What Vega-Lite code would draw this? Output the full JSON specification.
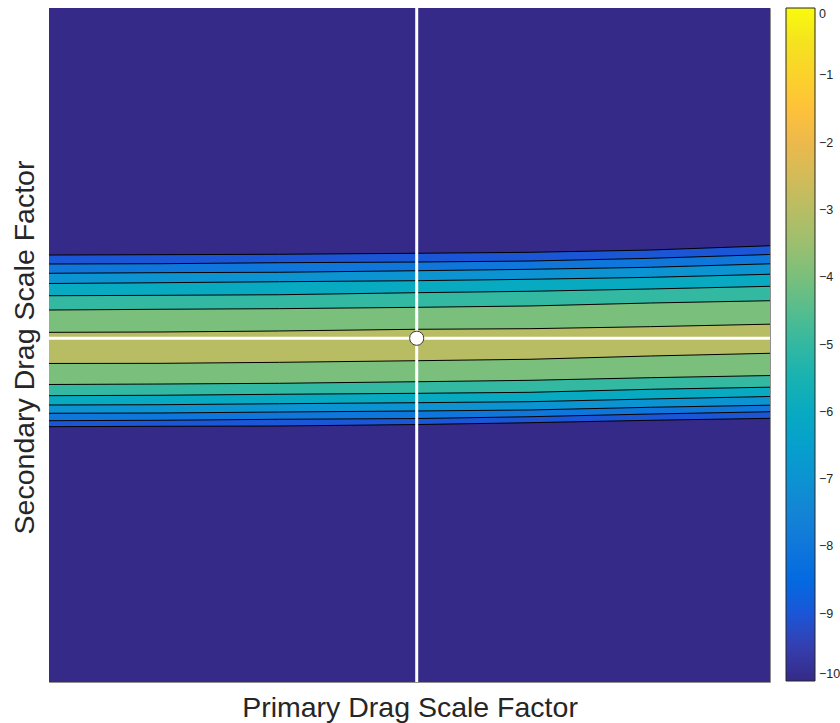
{
  "$schema": "https://vega.github.io/schema/vega-lite/v6.json",
  "width": 721,
  "height": 674,
  "autosize": {"type": "none"},
  "padding": {"left": 49, "top": 8, "right": 70, "bottom": 41},
  "background": "white",
  "config": {
    "view": {"stroke": "#8f8f8f", "strokeWidth": 1},
    "font": "Liberation Sans"
  },
  "datasets": {
    "bands": [
      {"level": -10, "x": 0, "top": 100, "bottom": 0},
      {"level": -10, "x": 100, "top": 100, "bottom": 0},
      {"level": -9, "x": 0, "top": 63.35, "bottom": 37.88},
      {"level": -9, "x": 15.4, "top": 63.40, "bottom": 37.94},
      {"level": -9, "x": 32.0, "top": 63.46, "bottom": 37.98},
      {"level": -9, "x": 51.0, "top": 63.61, "bottom": 38.20},
      {"level": -9, "x": 66.7, "top": 63.75, "bottom": 38.47},
      {"level": -9, "x": 83.4, "top": 64.09, "bottom": 38.83},
      {"level": -9, "x": 100, "top": 64.73, "bottom": 39.12},
      {"level": -8, "x": 0, "top": 62.02, "bottom": 38.77},
      {"level": -8, "x": 15.4, "top": 62.06, "bottom": 38.83},
      {"level": -8, "x": 32.0, "top": 62.21, "bottom": 38.98},
      {"level": -8, "x": 51.0, "top": 62.31, "bottom": 39.09},
      {"level": -8, "x": 66.7, "top": 62.46, "bottom": 39.36},
      {"level": -8, "x": 83.4, "top": 62.86, "bottom": 39.76},
      {"level": -8, "x": 100, "top": 63.43, "bottom": 40.10},
      {"level": -7, "x": 0, "top": 60.64, "bottom": 39.87},
      {"level": -7, "x": 15.4, "top": 60.73, "bottom": 39.91},
      {"level": -7, "x": 32.0, "top": 60.79, "bottom": 40.06},
      {"level": -7, "x": 51.0, "top": 61.02, "bottom": 40.21},
      {"level": -7, "x": 66.7, "top": 61.23, "bottom": 40.36},
      {"level": -7, "x": 83.4, "top": 61.53, "bottom": 40.76},
      {"level": -7, "x": 100, "top": 62.05, "bottom": 41.07},
      {"level": -6, "x": 0, "top": 59.12, "bottom": 41.10},
      {"level": -6, "x": 15.4, "top": 59.24, "bottom": 41.14},
      {"level": -6, "x": 32.0, "top": 59.39, "bottom": 41.29},
      {"level": -6, "x": 51.0, "top": 59.54, "bottom": 41.44},
      {"level": -6, "x": 66.7, "top": 59.75, "bottom": 41.59},
      {"level": -6, "x": 83.4, "top": 60.04, "bottom": 41.99},
      {"level": -6, "x": 100, "top": 60.50, "bottom": 42.36},
      {"level": -5, "x": 0, "top": 57.31, "bottom": 42.48},
      {"level": -5, "x": 15.4, "top": 57.37, "bottom": 42.54},
      {"level": -5, "x": 32.0, "top": 57.46, "bottom": 42.69},
      {"level": -5, "x": 51.0, "top": 57.76, "bottom": 42.83},
      {"level": -5, "x": 66.7, "top": 57.97, "bottom": 42.98},
      {"level": -5, "x": 83.4, "top": 58.31, "bottom": 43.43},
      {"level": -5, "x": 100, "top": 58.71, "bottom": 43.74},
      {"level": -4, "x": 0, "top": 55.19, "bottom": 44.14},
      {"level": -4, "x": 15.4, "top": 55.30, "bottom": 44.21},
      {"level": -4, "x": 32.0, "top": 55.39, "bottom": 44.32},
      {"level": -4, "x": 51.0, "top": 55.59, "bottom": 44.55},
      {"level": -4, "x": 66.7, "top": 55.79, "bottom": 44.76},
      {"level": -4, "x": 83.4, "top": 56.23, "bottom": 45.15},
      {"level": -4, "x": 100, "top": 56.57, "bottom": 45.47},
      {"level": -3, "x": 0, "top": 51.88, "bottom": 47.26},
      {"level": -3, "x": 15.4, "top": 51.93, "bottom": 47.28},
      {"level": -3, "x": 32.0, "top": 52.08, "bottom": 47.43},
      {"level": -3, "x": 51.0, "top": 52.33, "bottom": 47.67},
      {"level": -3, "x": 66.7, "top": 52.42, "bottom": 47.88},
      {"level": -3, "x": 83.4, "top": 52.72, "bottom": 48.37},
      {"level": -3, "x": 100, "top": 53.09, "bottom": 48.77}
    ],
    "optimum": [{"px": 51.0, "py": 51.0}]
  },
  "layer": [
    {
      "data": {"name": "bands"},
      "mark": {"type": "area", "interpolate": "linear"},
      "encoding": {
        "x": {"field": "x", "type": "quantitative", "scale": {"domain": [0, 100], "nice": false, "zero": false},
              "axis": {"labels": false, "ticks": false, "domain": false, "grid": false, "title": "Primary Drag Scale Factor",
                       "titleFont": "Liberation Sans", "titleFontSize": 28.5, "titleFontWeight": "normal", "titleColor": "#262626",
                       "titleX": 360.5, "titleY": 34.5, "titleAlign": "center", "titleBaseline": "alphabetic"}},
        "y": {"field": "top", "type": "quantitative", "scale": {"domain": [0, 100], "nice": false, "zero": false},
              "axis": {"labels": false, "ticks": false, "domain": false, "grid": false, "title": "Secondary Drag Scale Factor",
                       "titleFont": "Liberation Sans", "titleFontSize": 28.5, "titleFontWeight": "normal", "titleColor": "#262626",
                       "titleAngle": -90, "titleX": -16, "titleY": 339, "titleAlign": "center", "titleBaseline": "alphabetic"}},
        "y2": {"field": "bottom"},
        "detail": {"field": "level", "type": "ordinal"},
        "order": {"field": "level", "type": "quantitative"},
        "color": {
          "field": "level", "type": "quantitative",
          "scale": {"type": "linear", "domain": [-10, 0], "interpolate": "rgb", "range": [
            "#352A87","#363093","#3637A0","#353DAD","#3243BA","#2C4AC7","#2053D4","#0F5CDD",
            "#0363E1","#0268E1","#046DE0","#0871DE","#0D75DC","#1079DA","#127DD8","#1481D6",
            "#1485D4","#1389D3","#108ED2","#0C93D2","#0998D1","#079CCF","#06A0CD","#06A4CA",
            "#06A7C6","#07A9C2","#0AACBE","#0FAEB9","#15B1B4","#1DB3AF","#25B5A9","#2EB7A4",
            "#38B99E","#42BB98","#4DBC92","#59BD8C","#65BE86","#71BF80","#7CBF7B","#87BF77",
            "#92BF73","#9CBF6F","#A5BE6B","#AEBE67","#B7BD64","#C0BC60","#C8BC5D","#D1BB59",
            "#D9BA56","#E1B952","#E9B94E","#F1B94A","#F8BB44","#FDBE3D","#FFC337","#FEC832",
            "#FCCE2E","#FAD32A","#F7D826","#F5DE21","#F5E41D","#F5EB18","#F6F313","#F9FB0E"]},
          "legend": {
            "title": null, "orient": "right", "offset": 14, "padding": 0,
            "type": "gradient", "direction": "vertical",
            "gradientLength": 673, "gradientThickness": 29,
            "gradientStrokeColor": "#262626", "gradientStrokeWidth": 1,
            "values": [-10, -9, -8, -7, -6, -5, -4, -3, -2, -1, 0],
            "labelOverlap": false, "labelBaseline": "middle", "labelOffset": 4,
            "labelFont": "Liberation Sans", "labelFontSize": 12.5, "labelColor": "#262626"
          }
        }
      }
    },
    {
      "data": {"name": "bands"},
      "transform": [{"filter": "datum.level > -10"}],
      "mark": {"type": "line", "color": "#000000", "strokeWidth": 1, "interpolate": "linear"},
      "encoding": {
        "x": {"field": "x", "type": "quantitative"},
        "y": {"field": "top", "type": "quantitative"},
        "detail": {"field": "level", "type": "ordinal"}
      }
    },
    {
      "data": {"name": "bands"},
      "transform": [{"filter": "datum.level > -10"}],
      "mark": {"type": "line", "color": "#000000", "strokeWidth": 1, "interpolate": "linear"},
      "encoding": {
        "x": {"field": "x", "type": "quantitative"},
        "y": {"field": "bottom", "type": "quantitative"},
        "detail": {"field": "level", "type": "ordinal"}
      }
    },
    {
      "data": {"name": "optimum"},
      "mark": {"type": "rule", "color": "#ffffff", "strokeWidth": 3},
      "encoding": {"x": {"field": "px", "type": "quantitative"}}
    },
    {
      "data": {"name": "optimum"},
      "mark": {"type": "rule", "color": "#ffffff", "strokeWidth": 3},
      "encoding": {"y": {"field": "py", "type": "quantitative"}}
    },
    {
      "data": {"name": "optimum"},
      "mark": {"type": "point", "shape": "circle", "filled": true, "fill": "#ffffff", "stroke": "#3a3a3a", "strokeWidth": 1, "size": 200, "opacity": 1},
      "encoding": {
        "x": {"field": "px", "type": "quantitative"},
        "y": {"field": "py", "type": "quantitative"}
      }
    }
  ]
}
